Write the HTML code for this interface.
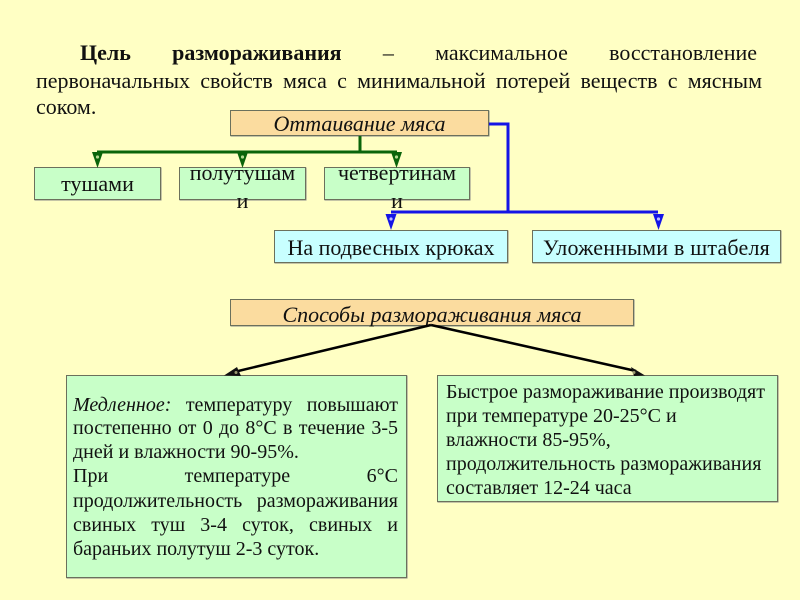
<!DOCTYPE html>
<html><head><meta charset="utf-8"><style>
html,body{margin:0;padding:0}
body{width:800px;height:600px;background:#ffffc4;position:relative;overflow:hidden;font-family:"Liberation Serif","DejaVu Serif",serif;color:#111}
#w{position:absolute;left:0;top:0;width:800px;height:600px;filter:blur(.35px)}
.b{position:absolute;box-sizing:border-box;border:1.5px solid #6b705c;box-shadow:.5px .5px 0 #888}
.o{background:#fbdc9f}.g{background:#c8ffc8}.c{background:#c8ffff}
.t{position:absolute;white-space:nowrap;text-align:center;font-size:22px}
.l{position:absolute;white-space:nowrap;text-align:justify;text-align-last:justify}
.s{font-size:20px;line-height:24px}
svg{position:absolute;left:0;top:0}
</style></head><body><div id="w">
<div class="l" style="left:80px;top:41px;width:677px;font-size:22px;line-height:24px"><b>Цель размораживания</b> – максимальное восстановление</div>
<div class="l" style="left:36px;top:69px;width:726px;font-size:22px;line-height:24px">первоначальных свойств мяса с минимальной потерей веществ с мясным</div>
<div class="t" style="left:36px;top:95px;line-height:24px">соком.</div>

<div class="b o" style="left:230px;top:110px;width:259px;height:26px"></div>
<div class="t" style="left:230px;top:111px;width:259px;line-height:25px;font-style:italic">Оттаивание мяса</div>

<div class="b g" style="left:34px;top:167px;width:127px;height:33px"></div>
<div class="t" style="left:34px;top:172px;width:127px;line-height:24px">тушами</div>
<div class="b g" style="left:179px;top:167px;width:127px;height:33px"></div>
<div class="t" style="left:179px;top:160px;width:127px;line-height:26px">полутушам</div>
<div class="t" style="left:179px;top:188px;width:127px;line-height:26px">и</div>
<div class="b g" style="left:324px;top:167px;width:146px;height:33px"></div>
<div class="t" style="left:324px;top:160px;width:146px;line-height:26px">четвертинам</div>
<div class="t" style="left:324px;top:188px;width:146px;line-height:26px">и</div>

<div class="b c" style="left:274px;top:230px;width:234px;height:33px"></div>
<div class="t" style="left:274px;top:236px;width:234px;line-height:24px">На подвесных крюках</div>
<div class="b c" style="left:532px;top:230px;width:249px;height:33px"></div>
<div class="t" style="left:532px;top:236px;width:249px;line-height:24px;letter-spacing:.2px">Уложенными в штабеля</div>

<div class="b o" style="left:230px;top:299px;width:404px;height:27px"></div>
<div class="t" style="left:230px;top:302px;width:404px;line-height:26px;font-style:italic">Способы размораживания мяса</div>

<div class="b g" style="left:66px;top:375px;width:341px;height:203px"></div>
<div class="l s" style="left:73px;top:393px;width:325px"><i>Медленное:</i> температуру повышают</div>
<div class="l s" style="left:73px;top:416px;width:325px">постепенно от 0 до 8°С в течение 3-5</div>
<div class="t s" style="left:73px;top:440px">дней и влажности 90-95%.</div>
<div class="l s" style="left:73px;top:464px;width:325px">При температуре 6°С</div>
<div class="l s" style="left:73px;top:489px;width:325px">продолжительность размораживания</div>
<div class="l s" style="left:73px;top:513px;width:325px">свиных туш 3-4 суток, свиных и</div>
<div class="t s" style="left:73px;top:537px">бараньих полутуш 2-3 суток.</div>

<div class="b g" style="left:437px;top:375px;width:341px;height:127px"></div>
<div class="t" style="left:446px;top:380px;font-size:20px;line-height:24px;text-align:left">Быстрое размораживание производят<br>при температуре 20-25°С и<br>влажности 85-95%,<br>продолжительность размораживания<br>составляет 12-24 часа</div>

<svg width="800" height="600" viewBox="0 0 800 600" fill="none">
<path d="M360 136V152M97 152H397" stroke="#0a640a" stroke-width="3"/>
<g fill="#0a640a">
<path d="M92 152H103L97.500 168Z"/><path d="M237 152H248L242.500 168Z"/><path d="M391 152H402L396.500 168Z"/>
</g>
<g fill="#b4d890">
<circle cx="97.500" cy="157" r="1.600"/><circle cx="242.500" cy="157" r="1.600"/><circle cx="396.500" cy="157" r="1.600"/>
</g>
<path d="M489 124H508V212M391 212H658" stroke="#1414e6" stroke-width="3"/>
<g fill="#1414e6">
<path d="M385.500 214H396.500L391 230Z"/><path d="M653 214H664L658.500 230Z"/>
</g>
<g fill="#b8b8ff">
<circle cx="391" cy="219" r="1.600"/><circle cx="658.500" cy="219" r="1.600"/>
</g>
<path d="M431 325L234 372M431 325L636 371" stroke="#000" stroke-width="2.500"/>
<path d="M224 375.500L237 367L241 376Z" fill="#111"/><path d="M645 375.500L631 367L634 376Z" fill="#111"/>
<circle cx="236" cy="372.500" r="1.500" fill="#9a9a70"/><circle cx="634" cy="372.500" r="1.500" fill="#9a9a70"/>
</svg>
</div></body></html>
